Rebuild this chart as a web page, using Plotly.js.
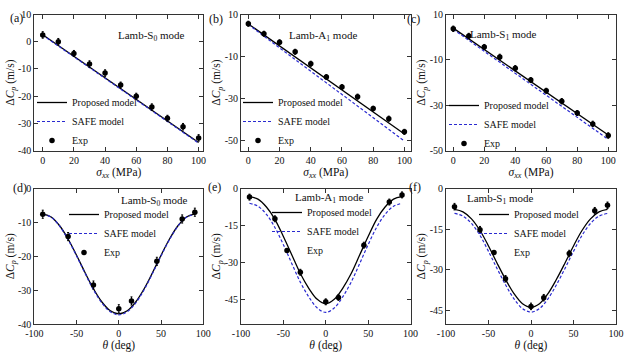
<!DOCTYPE html>
<html><head><meta charset="utf-8">
<script src="https://cdn.plot.ly/plotly-3.0.1.min.js"></script>
<style>html,body{margin:0;padding:0;background:#fff}#chart{width:625px;height:352px}</style>
</head><body><div id="chart"></div>
<script>
// ---------- data ----------
const stressExp = [0, 10, 20, 30, 40, 50, 60, 70, 80, 90, 100];
const stressModel = [0, 100];
const s0StressExp = [2.5, 0, -4.3, -8.2, -11.5, -15.9, -20, -24, -28.1, -31.2, -35.3];
const s0StressProposed = [2.6, -37];
const s0StressSafe = [2.4, -37.2];
const a1StressExp = [5.6, 0.8, -3.2, -7.8, -13.5, -19.8, -24.6, -29.2, -34.9, -39.7, -46];
const a1StressProposed = [5.5, -47];
const a1StressSafe = [5.2, -50.4];
const s1StressExp = [3.7, 0.5, -4.3, -8.7, -13.7, -18.9, -23.6, -28.2, -33.4, -38.2, -43.3];
const s1StressProposed = [4, -43.1];
const s1StressSafe = [3.5, -45];
const stressErr = [1.2, 1.2, 1.1, 1.2, 1.2, 1.1, 1.1, 1.2, 1.1, 1.2, 1.2];

const angleExp = [-90, -60, -30, 0, 15, 45, 75, 90];
const angleModel = [-90, -80, -70, -60, -50, -40, -30, -20, -10, 0, 10, 20, 30, 40, 50, 60, 70, 80, 90];
const s0AngleExp = [-7.6, -14.2, -28.5, -35.5, -33.2, -21.5, -9.0, -7.0];
const s0AngleProposed = [-7.5, -8.4, -11, -14.9, -19.7, -24.8, -29.6, -33.5, -36.1, -37, -36.1, -33.5, -29.6, -24.8, -19.7, -14.9, -11, -8.4, -7.5];
const s0AngleSafe = [-7.6, -8.5, -11.1, -15.1, -19.9, -25.0, -29.9, -33.8, -36.4, -37.3, -36.4, -33.8, -29.9, -25.0, -19.9, -15.1, -11.1, -8.5, -7.6];
const a1AngleExp = [-3.5, -12.3, -34, -46, -44.2, -23, -5.5, -2.6];
const a1AngleProposed = [-3.3, -4.3, -7.5, -12.5, -19.5, -27, -34.5, -40.5, -45, -46.8, -45, -40.5, -34.5, -27, -19.5, -12.5, -7.5, -4.3, -3.3];
const a1AngleSafe = [-6, -7.2, -10.5, -15.8, -22.8, -30.5, -38, -44, -48.5, -50.3, -48.5, -44, -38, -30.5, -22.8, -15.8, -10.5, -7.2, -6];
const s1AngleExp = [-6.7, -15.2, -33.3, -43.5, -40.3, -24, -8.2, -6.2];
const s1AngleProposed = [-7.7, -8.6, -11.2, -15.5, -21.2, -27.5, -33.5, -38.8, -42.5, -43.8, -42.5, -38.8, -33.5, -27.5, -21.2, -15.5, -11.2, -8.6, -7.7];
const s1AngleSafe = [-9.2, -10.2, -12.9, -17.3, -23.2, -29.5, -35.5, -40.7, -44.3, -45.6, -44.3, -40.7, -35.5, -29.5, -23.2, -17.3, -12.9, -10.2, -9.2];
const angleErr = [1.2, 1.2, 1.2, 1.2, 1.2, 1.2, 1.2, 1.2];

const stressTicks = [0, 20, 40, 60, 80, 100];
const stressTickText = ['0', '20', '40', '60', '80', '100'];
const angleTicks = [-100, -50, 0, 50, 100];
const angleTickText = ['-100', '-50', '0', '50', '100'];
const yTicksA = [10, 0, -10, -20, -30, -40];
const yTicksB = [10, -10, -30, -50];
const yTicksC = [10, -10, -30, -50];
const yTicksD = [0, -10, -20, -30, -40];
const yTicksE = [0, -15, -30, -45];
const yTicksF = [0, -15, -30, -45];
const panelLabels = ['(a)', '(b)', '(c)', '(d)', '(e)', '(f)'];
const modeNames = ['Lamb-S<sub>0</sub> mode', 'Lamb-A<sub>1</sub> mode', 'Lamb-S<sub>1</sub> mode',
                   'Lamb-S<sub>0</sub> mode', 'Lamb-A<sub>1</sub> mode', 'Lamb-S<sub>1</sub> mode'];
const seriesNames = ['Proposed model', 'SAFE model', 'Exp'];

// ---------- build ----------
const FONT = '"Liberation Serif", "Times New Roman", serif';
const BLUE = '#2a2ad0';
const W = 625, H = 352;
const px = v => v / W, py = v => 1 - v / H;

const panels = [
  {x: stressExp, xm: stressModel, e: s0StressExp, p: s0StressProposed, s: s0StressSafe, err: stressErr},
  {x: stressExp, xm: stressModel, e: a1StressExp, p: a1StressProposed, s: a1StressSafe, err: stressErr},
  {x: stressExp, xm: stressModel, e: s1StressExp, p: s1StressProposed, s: s1StressSafe, err: stressErr},
  {x: angleExp, xm: angleModel, e: s0AngleExp, p: s0AngleProposed, s: s0AngleSafe, err: angleErr, spline: true},
  {x: angleExp, xm: angleModel, e: a1AngleExp, p: a1AngleProposed, s: a1AngleSafe, err: angleErr, spline: true},
  {x: angleExp, xm: angleModel, e: s1AngleExp, p: s1AngleProposed, s: s1AngleSafe, err: angleErr, spline: true}
];

const colX = [[34.3, 203.3], [241, 410.5], [446, 616]];
const rowY = [[14.5, 150.7], [188.5, 324]];
const xRanges = [[-5.4, 103], [-4.7, 103.9], [-4.7, 105], [-100, 100], [-100, 100], [-100, 100]];
const yRanges = [[-40, 10], [-55, 10], [-50, 10], [-40, 0], [-55, 0], [-50, 0]];
const yTicks = [yTicksA, yTicksB, yTicksC, yTicksD, yTicksE, yTicksF];
// legend anchor (px): left, top
const legendPos = [[32, 88], [238, 88], [444, 91], [64, 200], [267, 198], [474, 200]];
const annoPos = [[117, 28], [323, 28], [538, 27], [119.5, 200.5], [329, 198], [535, 199]];
const labelPos = [[8.5, 10.5], [215.5, 11], [421, 11], [12, 188], [214, 187], [422, 187]];

const data = [];
const layout = {
  width: W, height: H,
  margin: {l: 0, r: 0, t: 0, b: 0},
  paper_bgcolor: '#fff', plot_bgcolor: '#fff',
  font: {family: FONT, size: 10, color: '#111'},
  annotations: [],
  showlegend: true
};

panels.forEach((pn, i) => {
  const n = i + 1;
  const xa = n === 1 ? 'x' : 'x' + n, ya = n === 1 ? 'y' : 'y' + n;
  const lg = n === 1 ? 'legend' : 'legend' + n;
  const shape = pn.spline ? 'spline' : 'linear';
  data.push({x: pn.xm, y: pn.p, xaxis: xa, yaxis: ya, mode: 'lines', name: seriesNames[0], legend: lg,
             line: {color: '#000', width: 1.3, shape: shape}});
  data.push({x: pn.xm, y: pn.s, xaxis: xa, yaxis: ya, mode: 'lines', name: seriesNames[1], legend: lg,
             line: {color: BLUE, width: 1.2, dash: '3px,2px', shape: shape}});
  data.push({x: pn.x, y: pn.e, xaxis: xa, yaxis: ya, mode: 'markers', name: seriesNames[2], legend: lg,
             marker: {color: '#000', size: 5.5},
             error_y: {type: 'data', array: pn.err, visible: true, color: '#000', thickness: 1, width: 1}});

  const col = i % 3, row = Math.floor(i / 3);
  const axBase = {showline: true, mirror: 'ticks', ticks: 'inside', ticklen: 4, tickwidth: 1,
                  tickcolor: '#333', linecolor: '#333', linewidth: 1, showgrid: false, zeroline: false,
                  tickfont: {family: FONT, size: 10, color: '#111'}, fixedrange: true};
  const xKey = n === 1 ? 'xaxis' : 'xaxis' + n, yKey = n === 1 ? 'yaxis' : 'yaxis' + n;
  layout[xKey] = Object.assign({}, axBase, {
    domain: [px(colX[col][0]), px(colX[col][1])], anchor: ya, range: xRanges[i],
    tickmode: 'array',
    tickvals: row === 0 ? stressTicks : angleTicks,
    ticktext: row === 0 ? stressTickText : angleTickText,
    title: {text: row === 0 ? '<i>σ</i><sub><i>xx</i></sub> (MPa)' : '<i>θ</i> (deg)',
            font: {family: FONT, size: 11.5, color: '#111'}, standoff: 0}
  });
  layout[yKey] = Object.assign({}, axBase, {
    domain: [py(rowY[row][1]), py(rowY[row][0])], anchor: xa, range: yRanges[i],
    tickmode: 'array', tickvals: yTicks[i], ticktext: yTicks[i].map(v => String(v)),
    title: {text: 'Δ<i>C</i><sub><i>p</i></sub> (m/s)', font: {family: FONT, size: 11.5, color: '#111'}, standoff: 0}
  });
  layout[lg] = {x: px(legendPos[i][0]), y: py(legendPos[i][1]), xanchor: 'left', yanchor: 'top',
                bgcolor: 'rgba(0,0,0,0)', borderwidth: 0, itemwidth: 30,
                font: {family: FONT, size: 10, color: '#111'}};
  layout.annotations.push({text: modeNames[i], x: px(annoPos[i][0]), y: py(annoPos[i][1]),
                           xref: 'paper', yref: 'paper', showarrow: false, borderpad: 0,
                           font: {family: FONT, size: 11, color: '#111'}});
  layout.annotations.push({text: panelLabels[i], x: px(labelPos[i][0]), y: py(labelPos[i][1]),
                           xref: 'paper', yref: 'paper', showarrow: false, borderpad: 0,
                           font: {family: FONT, size: 12, color: '#111'}});
});

Plotly.newPlot('chart', data, layout, {displayModeBar: false, staticPlot: true});
</script>
</body></html>
